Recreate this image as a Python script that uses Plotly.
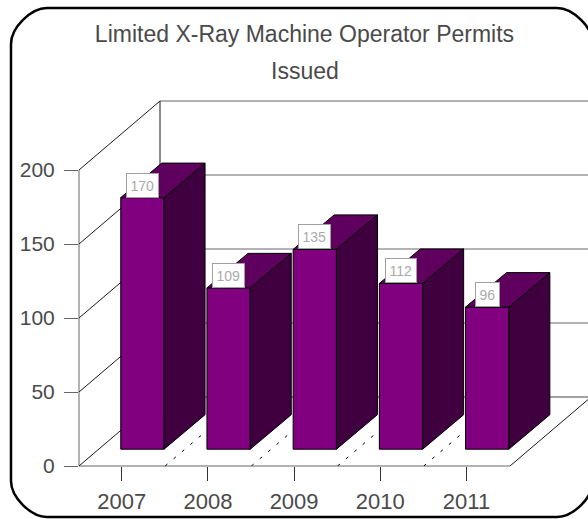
import plotly.graph_objects as go

years = ["2007", "2008", "2009", "2010", "2011"]
permits = [170, 109, 135, 112, 96]
y_ticks = [0, 50, 100, 150, 200]
title_lines = ["Limited X-Ray Machine Operator Permits", "Issued"]

W, H = 588, 519
L, T, B = 79, 95, 53
PX_PER_UNIT = 1.48
PX_PER_CAT = 86.2
X0_PX = 121.7

WALL_DX = 81 / PX_PER_CAT
WALL_DY = 69 / PX_PER_UNIT
BAR_DX = 41 / PX_PER_CAT
BAR_DY = 34.5 / PX_PER_UNIT
BAR_SHIFT_X = 20.7 / PX_PER_CAT
BAR_BASE = 16.8 / PX_PER_UNIT
BAR_W = 43.3 / PX_PER_CAT

x_min = (L - X0_PX) / PX_PER_CAT
x_max = (W - X0_PX) / PX_PER_CAT
y_max = (H - B - T) / PX_PER_UNIT
x_right = len(years) - 0.5 + (x_min + 0.5)

PURPLE, SIDE, TOP = "#800080", "#400040", "#5f005f"
GRAY, DARK = "#666666", "#1a1a1a"
FONT = "Liberation Sans"
TEXT = "#4a4a4a"

shapes = []


def seg(x0, y0, x1, y1, color, dash="solid", xref="x", yref="y", width=1):
    shapes.append(dict(type="line", x0=x0, y0=y0, x1=x1, y1=y1, xref=xref, yref=yref,
                       layer="below", line=dict(color=color, width=width, dash=dash)))


# left wall and back wall grid
for v in y_ticks:
    seg(x_min, v, x_min + WALL_DX, v + WALL_DY, DARK)
    seg(x_min + WALL_DX, v + WALL_DY, x_max + 1, v + WALL_DY, GRAY if v else "#444444")
seg(0, 0, 0, 200 / y_max, GRAY, xref="paper", yref="paper")
seg(x_min + WALL_DX, WALL_DY, x_min + WALL_DX, 200 + WALL_DY, DARK)
# floor
seg(x_min, 0, x_right, 0, GRAY, yref="paper")
seg(x_right, 0, x_right + WALL_DX, WALL_DY, DARK)
for i in range(len(years) - 1):
    seg(i + 0.5 + (x_min + 0.5), 0, i + 0.5 + (x_min + 0.5) + WALL_DX, WALL_DY, "#000000", dash="3px,8px")


# rounded frame in pixel-derived paper coordinates
def px(x):
    return (x - L) / (W - L)


def py(y):
    return (H - B - y) / (H - B - T)


fl, ft, fr, fb, r = 11, 8, 593, 517, 36
k = 0.45 * r
frame = (
    f"M {px(fl)} {py(ft + r)} C {px(fl)} {py(ft + r - k)} {px(fl + r - k)} {py(ft)} {px(fl + r)} {py(ft)} "
    f"L {px(fr - r)} {py(ft)} C {px(fr - r + k)} {py(ft)} {px(fr)} {py(ft + r - k)} {px(fr)} {py(ft + r)} "
    f"L {px(fr)} {py(fb - r)} C {px(fr)} {py(fb - r + k)} {px(fr - r + k)} {py(fb)} {px(fr - r)} {py(fb)} "
    f"L {px(fl + r)} {py(fb)} C {px(fl + r - k)} {py(fb)} {px(fl)} {py(fb - r + k)} {px(fl)} {py(fb - r)} Z"
)
shapes.append(dict(type="path", path=frame, xref="paper", yref="paper", layer="below",
                   line=dict(color="#000000", width=2.5)))

fig = go.Figure()

bar_x = [i + BAR_SHIFT_X for i in range(len(years))]
fig.add_trace(go.Bar(x=bar_x, y=permits, base=BAR_BASE, width=BAR_W,
                     marker=dict(color=PURPLE, line=dict(color="#000000", width=1)),
                     hoverinfo="skip", showlegend=False))

for cx, v in zip(bar_x, permits):
    xl, xr = cx - BAR_W / 2, cx + BAR_W / 2
    yb, yt = BAR_BASE, BAR_BASE + v
    fig.add_trace(go.Scatter(
        x=[xr, xr + BAR_DX, xr + BAR_DX, xr, xr], y=[yb, yb + BAR_DY, yt + BAR_DY, yt, yb],
        mode="lines", fill="toself", fillcolor=SIDE, line=dict(color="#000000", width=1),
        hoverinfo="skip", showlegend=False))
    fig.add_trace(go.Scatter(
        x=[xl, xr, xr + BAR_DX, xl + BAR_DX, xl], y=[yt, yt, yt + BAR_DY, yt + BAR_DY, yt],
        mode="lines", fill="toself", fillcolor=TOP, line=dict(color="#000000", width=1),
        hoverinfo="skip", showlegend=False))

annotations = [
    dict(x=cx, y=BAR_BASE + v, text=str(v), showarrow=False, yanchor="bottom", xanchor="center",
         bgcolor="#ffffff", bordercolor="#a0a0a0", borderwidth=1, borderpad=3.5,
         font=dict(family=FONT, size=14, color="#aaaaaa"))
    for cx, v in zip(bar_x, permits)
]
annotations.append(dict(xref="paper", yref="paper", x=px(304.5), y=py(71), text=title_lines[1],
                        showarrow=False, xanchor="center", yanchor="middle",
                        font=dict(family=FONT, size=23, color=TEXT)))

fig.update_layout(
    width=W, height=H, autosize=False,
    margin=dict(l=L, r=0, t=T, b=B, pad=0),
    paper_bgcolor="#ffffff", plot_bgcolor="rgba(0,0,0,0)",
    title=dict(text=title_lines[0], x=304.5 / W, y=1 - 34 / H, xanchor="center", yanchor="middle",
               font=dict(family=FONT, size=23, color=TEXT)),
    font=dict(family=FONT, color=TEXT),
    barmode="overlay", showlegend=False,
    shapes=shapes, annotations=annotations,
    xaxis=dict(range=[x_min, x_max], tickmode="array", tickvals=list(range(len(years))), ticktext=years,
               ticks="outside", ticklen=14, tickcolor="#333333", tickfont=dict(size=22, color=TEXT),
               ticklabelstandoff=2, showgrid=False, zeroline=False, showline=False),
    yaxis=dict(range=[0, y_max], tickmode="array", tickvals=y_ticks,
               ticks="outside", ticklen=14, tickcolor=GRAY, tickfont=dict(size=21, color=TEXT),
               ticklabelstandoff=5, showgrid=False, zeroline=False, showline=False),
)

fig.write_html("out.html", config=dict(displayModeBar=False),
               post_script="document.body.style.margin='0';document.body.style.overflow='hidden';")
